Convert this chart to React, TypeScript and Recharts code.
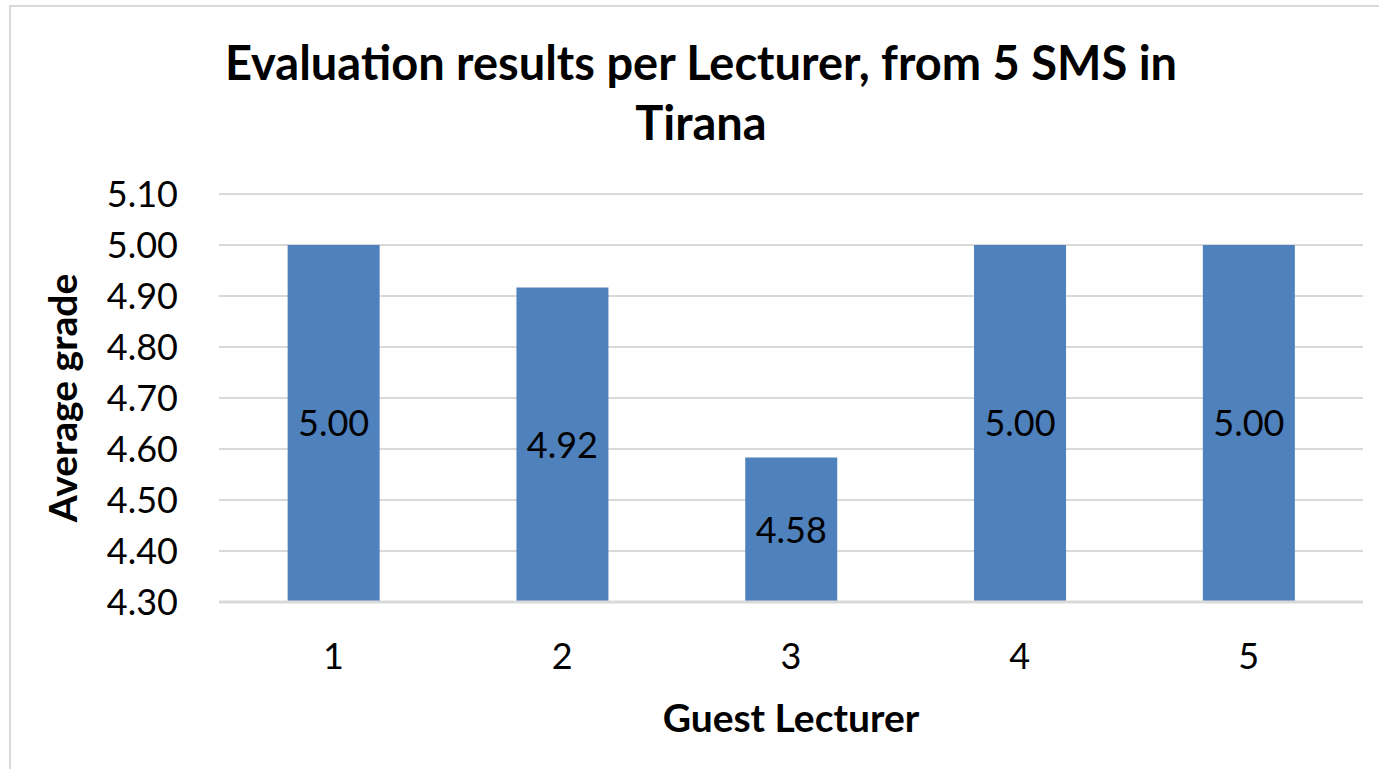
import React from 'react';
import {
  BarChart,
  Bar,
  XAxis,
  YAxis,
  CartesianGrid,
  LabelList,
  Label
} from 'recharts';

const lecturers = ['1', '2', '3', '4', '5'];
const averageGrades = [5.0, 4.9167, 4.5833, 5.0, 5.0];
const gradeTicks = [4.3, 4.4, 4.5, 4.6, 4.7, 4.8, 4.9, 5.0, 5.1];

const data = lecturers.map((name, i) => ({ name, grade: averageGrades[i] }));

const FONT = 'Lato, "Open Sans", sans-serif';

const YTitle = ({ viewBox }: any) => {
  const x = viewBox.x + 62;
  const y = viewBox.y + viewBox.height / 2;
  return (
    <text
      x={x}
      y={y}
      transform={`rotate(-90, ${x}, ${y})`}
      textAnchor="middle"
      dominantBaseline="central"
      fontFamily={FONT}
      fontWeight={700}
      fontSize={39}
      fill="#000"
    >
      Average grade
    </text>
  );
};

const XTitle = ({ viewBox }: any) => {
  const x = viewBox.x + viewBox.width / 2;
  return (
    <text
      x={x}
      y={717}
      textAnchor="middle"
      dominantBaseline="central"
      fontFamily={FONT}
      fontWeight={700}
      fontSize={39}
      fill="#000"
    >
      Guest Lecturer
    </text>
  );
};

export default function App() {
  return (
    <div
      style={{
        position: 'absolute',
        left: 0,
        top: 0,
        width: 1379,
        height: 769,
        overflow: 'hidden',
        background: '#fff',
        fontFamily: FONT
      }}
    >
      {/* chart frame */}
      <div
        style={{
          position: 'absolute',
          left: 9,
          top: 5,
          width: 1500,
          height: 900,
          border: '2px solid #d9d9d9'
        }}
      />
      <div
        style={{
          position: 'absolute',
          left: 151,
          width: 1100,
          top: 32,
          textAlign: 'center',
          fontWeight: 700,
          fontSize: 47,
          lineHeight: '60px',
          color: '#000'
        }}
      >
        Evaluation results per Lecturer, from 5 SMS in
        <br />
        Tirana
      </div>
      <div style={{ position: 'absolute', left: 0, top: 0 }}>
        <BarChart
          width={1379}
          height={769}
          data={data}
          margin={{ top: 194, right: 16, bottom: 0, left: 0 }}
          barCategoryGap="30%"
        >
          <CartesianGrid
            vertical={false}
            stroke="#d9d9d9"
            strokeWidth={2}
          />
          <XAxis
            dataKey="name"
            height={167}
            tickSize={0}
            tickMargin={41}
            axisLine={{ stroke: '#d9d9d9', strokeWidth: 3 }}
            tickLine={false}
            tick={{ fill: '#000', fontSize: 36, fontFamily: FONT }}
          >
            <Label content={<XTitle />} />
          </XAxis>
          <YAxis
            width={219}
            domain={[4.3, 5.1]}
            ticks={gradeTicks}
            interval={0}
            allowDataOverflow
            tickFormatter={(v: number) => v.toFixed(2)}
            tickSize={0}
            tickMargin={41}
            axisLine={false}
            tickLine={false}
            tick={{ fill: '#000', fontSize: 36, fontFamily: FONT }}
          >
            <Label content={<YTitle />} />
          </YAxis>
          <Bar dataKey="grade" fill="#4f81bd" isAnimationActive={false}>
            <LabelList
              dataKey="grade"
              position="center"
              formatter={(v: any) => Number(v).toFixed(2)}
              fill="#000"
              fontSize={36}
              fontFamily={FONT}
            />
          </Bar>
        </BarChart>
      </div>
    </div>
  );
}
